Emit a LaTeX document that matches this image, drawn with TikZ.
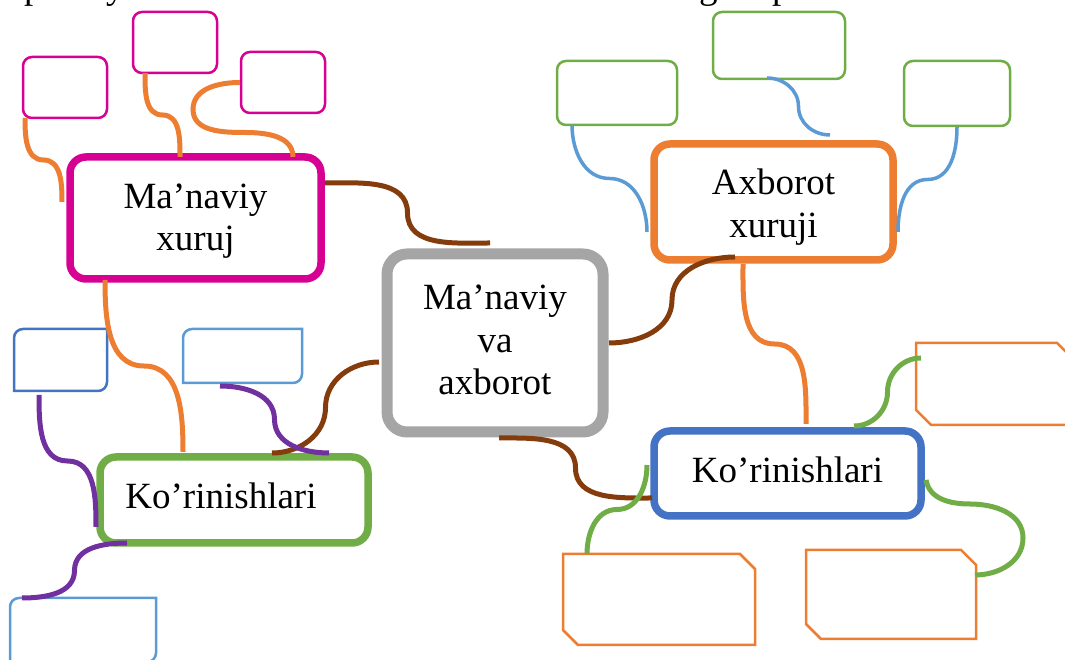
\documentclass[tikz,border=0pt]{standalone}
\usepackage{fontspec}
\setmainfont{Liberation Serif}
\usetikzlibrary{calc}
\definecolor{cMag}{HTML}{D60093}
\definecolor{cOra}{HTML}{ED7D31}
\definecolor{cGry}{HTML}{A5A5A5}
\definecolor{cBlu}{HTML}{4472C4}
\definecolor{cLbl}{HTML}{5B9BD5}
\definecolor{cGrn}{HTML}{70AD47}
\definecolor{cBrn}{HTML}{843C0C}
\definecolor{cPur}{HTML}{7030A0}
\begin{document}
\begin{tikzpicture}[x=1pt,y=1pt,
  every node/.style={outer sep=0pt, inner sep=0pt},
  mainbox/.style={draw, line width=7.5pt, rounded corners=16pt},
  centerbox/.style={draw, line width=11pt, rounded corners=20pt},
  smallbox/.style={draw, line width=2.5pt, rounded corners=9pt},
  thinline/.style={line width=2.5pt},
  lbl/.style={font=\fontsize{37}{42.5}\selectfont, align=center, text=black},
  frag/.style={font=\fontsize{37}{42.5}\selectfont, text=black},
  link/.style={line width=5pt, line cap=butt},
  slink/.style={line width=3.5pt, line cap=butt},
]
\useasboundingbox (0,0) rectangle (1065,660);

% clipped text of the line above
\begin{scope}
\clip (0,0) rectangle (1065,660);
\node[frag, anchor=base west] (t1) at (24,661) {p};
\node[frag, anchor=base west] (t2) at (106,661) {y};
\node[frag, anchor=base west] (t3) at (699,661) {g};
\node[frag, anchor=base west] (t4) at (772,661) {p};
\end{scope}

% main boxes
\node[mainbox, cMag, minimum width=251pt, minimum height=122pt] (M) at (195.5,442) {};
\node[centerbox, cGry, minimum width=216pt, minimum height=178pt] (C) at (495,317) {};
\node[mainbox, cOra, minimum width=239pt, minimum height=116pt] (X) at (773.5,458) {};
\node[mainbox, cBlu, minimum width=267pt, minimum height=85pt] (K2) at (787.5,186.5) {};
\node[mainbox, cGrn, minimum width=268pt, minimum height=86pt] (K1) at (234,160) {};

% labels
\node[lbl] (Mt) at ([yshift=-3pt]M.center) {Ma’naviy\\xuruj};
\node[lbl] (Ct) at ([yshift=3pt]C.center) {Ma’naviy\\va\\axborot};
\node[lbl] (Xt) at ([yshift=-5pt]X.center) {Axborot\\xuruji};
\node[lbl] (K2t) at ([yshift=4pt]K2.center) {Ko’rinishlari};
\node[lbl] (K1t) at ([shift={(-13pt,4.6pt)}]K1.center) {Ko’rinishlari};

% small rounded boxes
\node[smallbox, cMag, minimum width=84pt, minimum height=61pt] (A1) at (65,572.5) {};
\node[smallbox, cMag, minimum width=84pt, minimum height=61pt] (A2) at (175,617.5) {};
\node[smallbox, cMag, minimum width=84pt, minimum height=61pt] (A3) at (283,577.5) {};
\node[smallbox, cGrn, minimum width=120pt, minimum height=64pt] (G1) at (617,567) {};
\node[smallbox, cGrn, minimum width=132pt, minimum height=67pt] (G2) at (779,614.5) {};
\node[smallbox, cGrn, minimum width=106pt, minimum height=65pt] (G3) at (957,566.5) {};

% round-diagonal boxes
\node[minimum width=93pt, minimum height=62pt] (B1) at (60.5,300) {};
\node[minimum width=119pt, minimum height=54pt] (B2) at (242.5,304) {};
\node[minimum width=146pt, minimum height=64pt] (B3) at (83,30) {};
\foreach \b/\c in {B1/cBlu, B2/cLbl, B3/cLbl}{
  \draw[thinline, \c] (\b.north east) -- ([yshift=9pt]\b.south east)
    arc[start angle=0, end angle=-90, radius=9pt] -- (\b.south west)
    -- ([yshift=-9pt]\b.north west) arc[start angle=180, end angle=90, radius=9pt] -- cycle;
}

% snipped boxes
\node[minimum width=156pt, minimum height=82pt] (O1) at (994,276) {};
\node[minimum width=192pt, minimum height=91pt] (O2) at (659,60.5) {};
\node[minimum width=170pt, minimum height=89pt] (O3) at (891,65.5) {};
\foreach \b in {O1,O2,O3}{
  \draw[thinline, cOra] (\b.north west) -- ([xshift=-15pt]\b.north east)
    -- ([yshift=-15pt]\b.north east) -- (\b.south east)
    -- ([xshift=15pt]\b.south west) -- ([yshift=15pt]\b.south west) -- cycle;
}

% connector end points
\coordinate (a1s) at ([xshift=2pt]A1.south west);
\coordinate (a1e) at ([shift={(-8pt,16pt)}]M.west);
\coordinate (a2s) at ([xshift=12pt]A2.south west);
\coordinate (a2e) at ([xshift=-15.5pt]M.north);
\coordinate (a3s) at ([xshift=-1pt]A3.west);
\coordinate (a3e) at ([xshift=-28pt]M.north east);
\coordinate (mcs) at ([shift={(4pt,35pt)}]M.east);
\coordinate (mce) at ([shift={(-5pt,11pt)}]C.north);
\coordinate (cxs) at ([xshift=6pt]C.east);
\coordinate (cxe) at ([shift={(-38.5pt,3pt)}]X.south);
\coordinate (cks) at ([shift={(-8pt,-19pt)}]C.west);
\coordinate (cke) at ([shift={(38pt,4pt)}]K1.north);
\coordinate (cls) at ([shift={(4pt,-6pt)}]C.south);
\coordinate (cle) at ([shift={(-2pt,-24.5pt)}]K2.west);
\coordinate (g1s) at ([xshift=15pt]G1.south west);
\coordinate (g1e) at ([shift={(-7pt,-30pt)}]X.west);
\coordinate (g2s) at ([shift={(-12pt,1pt)}]G2.south);
\coordinate (g2e) at ([shift={(56.5pt,9pt)}]X.north);
\coordinate (g3s) at ([yshift=-1pt]G3.south);
\coordinate (g3e) at ([shift={(5pt,-30pt)}]X.east);
\coordinate (xks) at ([shift={(-30.5pt,-4pt)}]X.south);
\coordinate (xke) at ([shift={(18.5pt,7pt)}]K2.north);
\coordinate (o1s) at ([shift={(66.5pt,5pt)}]K2.north);
\coordinate (o1e) at ([shift={(5pt,26pt)}]O1.west);
\coordinate (o2s) at ([shift={(-7pt,8.5pt)}]K2.west);
\coordinate (o2e) at ([xshift=-72pt]O2.north);
\coordinate (o3s) at ([shift={(5pt,-6.5pt)}]K2.east);
\coordinate (o3e) at ([shift={(-1pt,19.5pt)}]O3.east);
\coordinate (mks) at ([shift={(35pt,-1pt)}]M.south west);
\coordinate (mke) at ([shift={(-51pt,5pt)}]K1.north);
\coordinate (b1s) at ([shift={(25pt,-4pt)}]B1.south west);
\coordinate (b1e) at ([shift={(-4pt,-27pt)}]K1.west);
\coordinate (b2s) at ([shift={(-22.5pt,-3pt)}]B2.south);
\coordinate (b2e) at ([shift={(-39pt,4pt)}]K1.north east);
\coordinate (b3s) at ([xshift=27pt]K1.south west);
\coordinate (b3e) at ([xshift=12pt]B3.north west);

% orange connectors (magenta group)
\draw[link, cOra] (a1s) to[out=-90,in=180] ($(a1s)!.5!(a1e)$) to[out=0,in=90] (a1e);
\draw[link, cOra] (a2s) to[out=-90,in=180] ($(a2s)!.5!(a2e)$) to[out=0,in=90] (a2e);
\draw[link, cOra] (a3s) to[out=180,in=90] ($(a3s)+(-47,-27)$) to[out=-90,in=180] ($(a3s)+(5,-50)$) to[out=0,in=90] (a3e);
\draw[link, cOra] (mks) to[out=-90,in=180] ($(mks)!.5!(mke)$) to[out=0,in=90] (mke);
\draw[link, cOra] (xks) to[out=-90,in=180] ($(xks)!.5!(xke)$) to[out=0,in=90] (xke);

% blue connectors (green group)
\draw[slink, cLbl] (g1s) to[out=-90,in=180] ($(g1s)!.5!(g1e)$) to[out=0,in=90] (g1e);
\draw[slink, cLbl] (g2s) to[out=0,in=90] ($(g2s)!.5!(g2e)$) to[out=-90,in=180] (g2e);
\draw[slink, cLbl] (g3s) to[out=-90,in=0] ($(g3s)!.5!(g3e)$) to[out=180,in=90] (g3e);

% brown connectors from the centre
\draw[link, cBrn] (mcs) to[out=0,in=90] ($(mcs)!.5!(mce)$) to[out=-90,in=180] (mce);
\draw[link, cBrn] (cxs) to[out=0,in=-90] ($(cxs)!.5!(cxe)$) to[out=90,in=180] (cxe);
\draw[link, cBrn] (cks) to[out=180,in=90] ($(cks)!.5!(cke)$) to[out=-90,in=0] (cke);
\draw[link, cBrn] (cls) to[out=0,in=90] ($(cls)!.5!(cle)$) to[out=-90,in=180] (cle);

% green connectors (orange group)
\draw[link, cGrn] (o1s) to[out=0,in=-90] ($(o1s)!.5!(o1e)$) to[out=90,in=180] (o1e);
\draw[link, cGrn] (o2s) to[out=-90,in=0] ($(o2s)!.5!(o2e)$) to[out=180,in=90] (o2e);
\draw[link, cGrn] (o3s) to[out=-80,in=180] ($(o3s)+(44,-24)$) to[out=0,in=90] ($(o3s)+(97,-58)$) to[out=-90,in=0] (o3e);

% purple connectors (blue group)
\draw[link, cPur] (b1s) to[out=-90,in=180] ($(b1s)!.5!(b1e)$) to[out=0,in=90] (b1e);
\draw[link, cPur] (b2s) to[out=0,in=90] ($(b2s)!.5!(b2e)$) to[out=-90,in=180] (b2e);
\draw[link, cPur] (b3s) to[out=180,in=90] ($(b3s)!.5!(b3e)$) to[out=-90,in=0] (b3e);
\end{tikzpicture}
\end{document}
